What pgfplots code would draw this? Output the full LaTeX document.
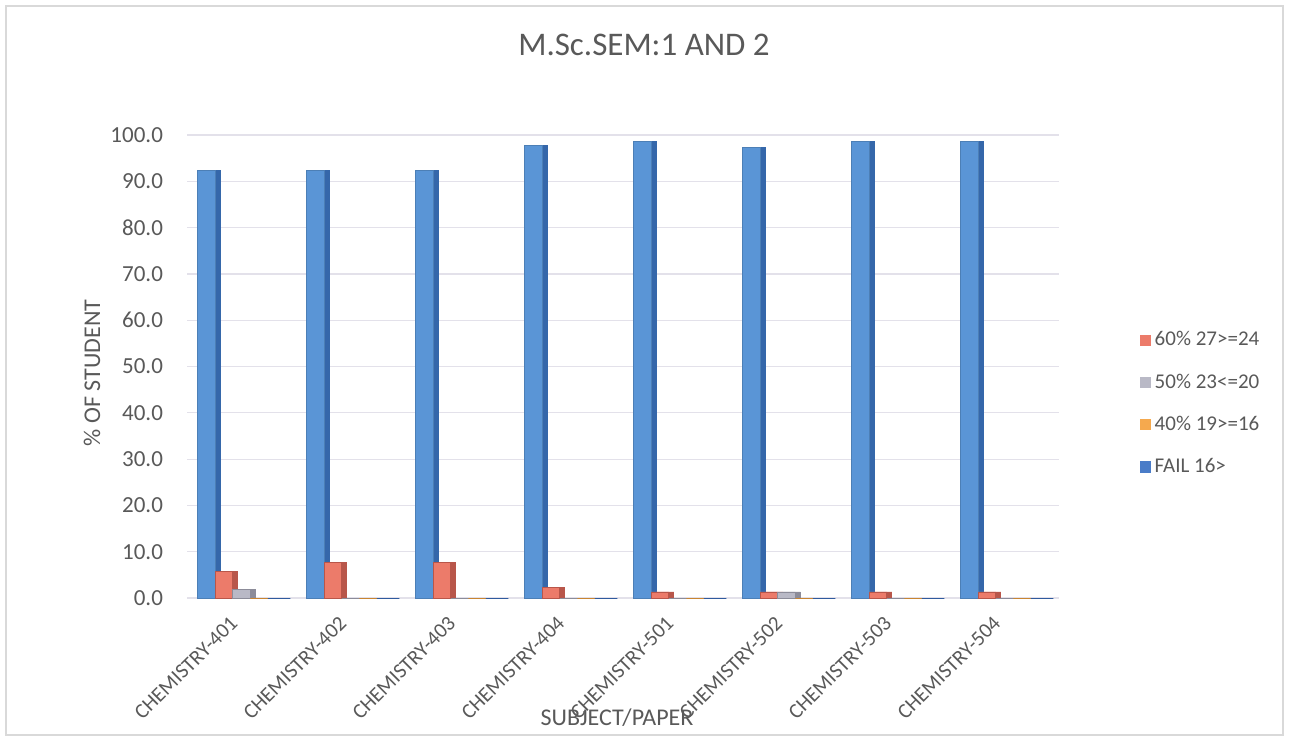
\documentclass[border=0pt]{standalone}
\usepackage{fontspec}
\setmainfont{Carlito}
\usepackage{pgfplots}
\pgfplotsset{compat=1.18}
\definecolor{txtgray}{HTML}{595959}
\definecolor{gridc}{HTML}{E3E1EA}
\definecolor{tallblue}{HTML}{5A95D6}
\definecolor{tallblued}{HTML}{3567AA}
\definecolor{c60}{HTML}{EC7B6A}
\definecolor{c60d}{HTML}{B8564A}
\definecolor{c50}{HTML}{B9B9C6}
\definecolor{c50d}{HTML}{8C8C99}
\definecolor{c40}{HTML}{F5A94E}
\definecolor{c40d}{HTML}{C98531}
\definecolor{cfail}{HTML}{4A7CC8}
\definecolor{cfaild}{HTML}{2F5A9E}
\definecolor{framec}{HTML}{D9D9D9}

% cat: top = tall (unlabelled) bar, then the four legend series
\pgfplotstableread{
x top p60 p50 p40 fail
0 92.3 5.8 1.9 0 0
1 92.3 7.7 0 0 0
2 92.3 7.7 0 0 0
3 97.7 2.3 0 0 0
4 98.7 1.3 0 0 0
5 97.4 1.3 1.3 0 0
6 98.7 1.3 0 0 0
7 98.7 1.3 0 0 0
}\marks

\begin{document}
\begin{tikzpicture}
\path (0pt,0pt) rectangle (644.5pt,370.5pt);
\draw[framec,line width=0.6pt] (3pt,3pt) rectangle (641.5pt,367.5pt);
\node[txtgray,font=\fontsize{16.5}{19}\selectfont] at (322pt,348pt) {M.Sc.SEM:1 AND 2};
\begin{axis}[
  at={(93.5pt,71.5pt)},anchor=south west,
  scale only axis,width=436pt,height=231.5pt,
  ybar,bar width=8.75pt,
  xmin=-0.5,xmax=7.5,ymin=0,ymax=100,
  xtick={0,...,7},
  xticklabels={CHEMISTRY-401,CHEMISTRY-402,CHEMISTRY-403,CHEMISTRY-404,
    CHEMISTRY-501,CHEMISTRY-502,CHEMISTRY-503,CHEMISTRY-504},
  ytick={0,10,...,100},
  yticklabel style={/pgf/number format/fixed,/pgf/number format/fixed zerofill,
    /pgf/number format/precision=1,/pgf/number format/assume math mode=true,
    font=\fontsize{11.5}{13}\selectfont,xshift=-8.5pt},
  ymajorgrids,grid style={gridc,line width=0.6pt},
  axis line style={draw=none},
  major tick length=0pt,
  tick label style={txtgray},
  xticklabel style={xshift=-6.2pt,yshift=-3.5pt,rotate=45,anchor=north east,
    font=\fontsize{10.5}{12}\selectfont},
  legend style={draw=none,fill=none,at={(1.085,0.42)},anchor=west,
    font=\fontsize{10.5}{12}\selectfont,text=txtgray,row sep=8.5pt},
  legend cell align=left,
  legend image code/.code={\fill[#1,draw=none] (0pt,-2.8pt) rectangle (5.6pt,2.8pt);},
  clip=false,
]
% darker side strips for a little depth
\addplot[fill=tallblued,draw=tallblued,bar shift=-15pt,forget plot] table[x=x,y=top]{\marks};
\addplot[fill=c60d,draw=c60d,bar shift=-6.25pt,forget plot] table[x=x,y=p60]{\marks};
\addplot[fill=c50d,draw=c50d,bar shift=2.5pt,forget plot] table[x=x,y=p50]{\marks};
\addplot[fill=c40d,draw=c40d,bar shift=11.25pt,forget plot] table[x=x,y=p40]{\marks};
\addplot[fill=cfaild,draw=cfaild,bar shift=20pt,forget plot] table[x=x,y=fail]{\marks};
% front faces
\addplot[fill=tallblue,draw=tallblue!85!black,bar shift=-17.5pt,forget plot] table[x=x,y=top]{\marks};
\addplot[fill=c60,draw=c60d,bar shift=-8.75pt] table[x=x,y=p60]{\marks};
\addplot[fill=c50,draw=c50d,bar shift=0pt] table[x=x,y=p50]{\marks};
\addplot[fill=c40,draw=c40d,bar shift=8.75pt] table[x=x,y=p40]{\marks};
\addplot[fill=cfail,draw=cfaild,bar shift=17.5pt] table[x=x,y=fail]{\marks};
\legend{60\% 27>=24,50\% 23<=20,40\% 19>=16,FAIL 16>}
\end{axis}
\node[txtgray,font=\fontsize{12}{14}\selectfont] at (308.5pt,11.5pt) {SUBJECT/PAPER};
\node[txtgray,rotate=90,font=\fontsize{12}{14}\selectfont] at (46pt,184pt) {\% OF STUDENT};
\end{tikzpicture}
\end{document}
